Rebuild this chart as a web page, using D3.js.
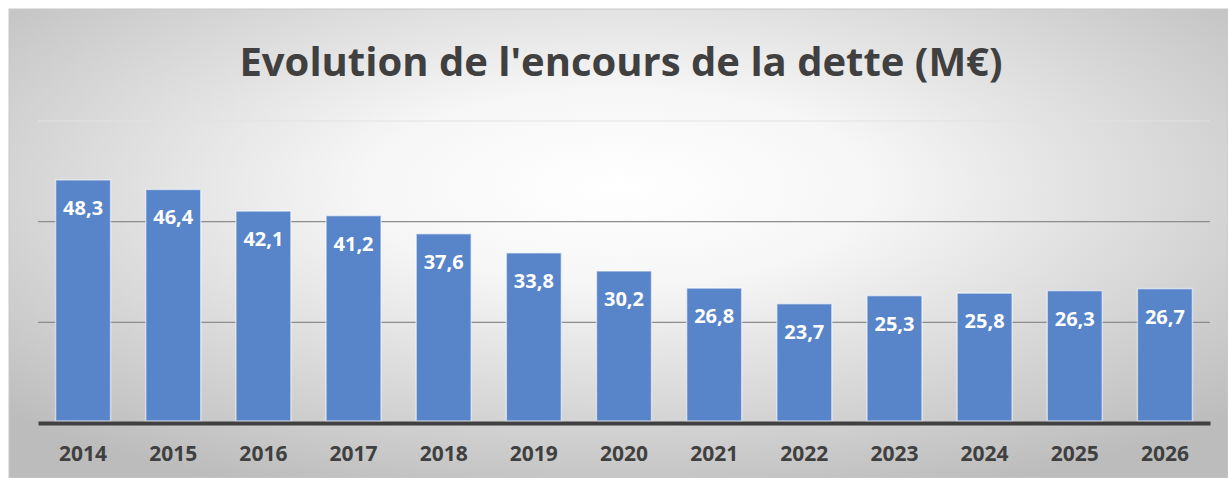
<!DOCTYPE html>
<html>
<head>
<meta charset="utf-8">
<script src="https://cdn.jsdelivr.net/npm/d3@7"></script>
<style>
  html, body { margin: 0; padding: 0; background: #fff; }
  svg { display: block; }
  text { font-family: "Open Sans", "DejaVu Sans", sans-serif; }
</style>
</head>
<body>
<svg id="chart"></svg>
<script>
// data
const years = ["2014", "2015", "2016", "2017", "2018", "2019", "2020",
               "2021", "2022", "2023", "2024", "2025", "2026"];
const debt = [48.3, 46.4, 42.1, 41.2, 37.6, 33.8, 30.2, 26.8, 23.7, 25.3, 25.8, 26.3, 26.7];
const gridTicks = [0, 20, 40, 60];
const titleText = "Evolution de l'encours de la dette (M€)";

const W = 1228, H = 478;
const svg = d3.select("#chart").attr("width", W).attr("height", H);

/* ---------- background panel ---------- */
const defs = svg.append("defs");
const grad = defs.append("radialGradient").attr("id", "bg")
  .attr("cx", "50%").attr("cy", "38%").attr("r", "70%");
grad.append("stop").attr("offset", "0%").attr("stop-color", "#ffffff");
grad.append("stop").attr("offset", "30%").attr("stop-color", "#f6f6f6");
grad.append("stop").attr("offset", "100%").attr("stop-color", "#bcbcbc");

svg.append("rect")
  .attr("x", 9).attr("y", 9).attr("width", W - 9).attr("height", H - 9)
  .attr("fill", "url(#bg)")
  .attr("stroke", "#c8c8c8").attr("stroke-width", 1);

/* ---------- scales ---------- */
const plot = { left: 38, right: 1210, top: 121, bottom: 423 };

const x = d3.scaleBand().domain(years)
  .range([plot.left, plot.right])
  .paddingInner(0.39).paddingOuter(0.195);

const y = d3.scaleLinear().domain([0, 60]).range([plot.bottom, plot.top]);

/* ---------- gridlines ---------- */
svg.append("g").selectAll("line")
  .data(gridTicks.filter(d => d > 0))
  .join("line")
  .attr("x1", plot.left).attr("x2", plot.right)
  .attr("y1", d => y(d)).attr("y2", d => y(d))
  .attr("stroke", d => d === 60 ? "#e2e2e2" : "#8c8c8c")
  .attr("stroke-width", 1.2);

/* ---------- bars ---------- */
svg.append("g").selectAll("rect")
  .data(debt)
  .join("rect")
  .attr("x", (d, i) => x(years[i]))
  .attr("width", x.bandwidth())
  .attr("y", d => y(d))
  .attr("height", d => y(0) - 2 - y(d))
  .attr("fill", "#5884c9")
  .attr("stroke", "rgba(255,255,255,0.55)")
  .attr("stroke-width", 1.5);

/* ---------- value labels ---------- */
const fmt = d => d.toFixed(1).replace(".", ",");
svg.append("g").selectAll("text")
  .data(debt)
  .join("text")
  .attr("x", (d, i) => x(years[i]) + x.bandwidth() / 2)
  .attr("y", d => y(d) + 35)
  .attr("text-anchor", "middle")
  .attr("font-size", 20)
  .attr("font-weight", "bold")
  .attr("fill", "#ffffff")
  .text(fmt);

/* ---------- x axis ---------- */
const xAxis = d3.axisBottom(x).tickSize(0).tickPadding(23);
const gx = svg.append("g")
  .attr("transform", `translate(0,${plot.bottom})`)
  .call(xAxis);
gx.select(".domain").attr("stroke", "#404040").attr("stroke-width", 4);
gx.selectAll(".tick text")
  .attr("font-family", "\"Open Sans\", sans-serif")
  .attr("font-size", 21)
  .attr("font-weight", "bold")
  .attr("fill", "#404040");

/* ---------- title ---------- */
const title = svg.append("text")
  .attr("x", 621).attr("y", 76)
  .attr("text-anchor", "middle")
  .attr("font-size", 40)
  .attr("font-weight", "bold")
  .attr("fill", "#404040")
  .text(titleText);
// shrink to the width of the original title
const tw = title.node().getComputedTextLength();
if (tw > 767) title.attr("font-size", 40 * 767 / tw);
</script>
</body>
</html>
